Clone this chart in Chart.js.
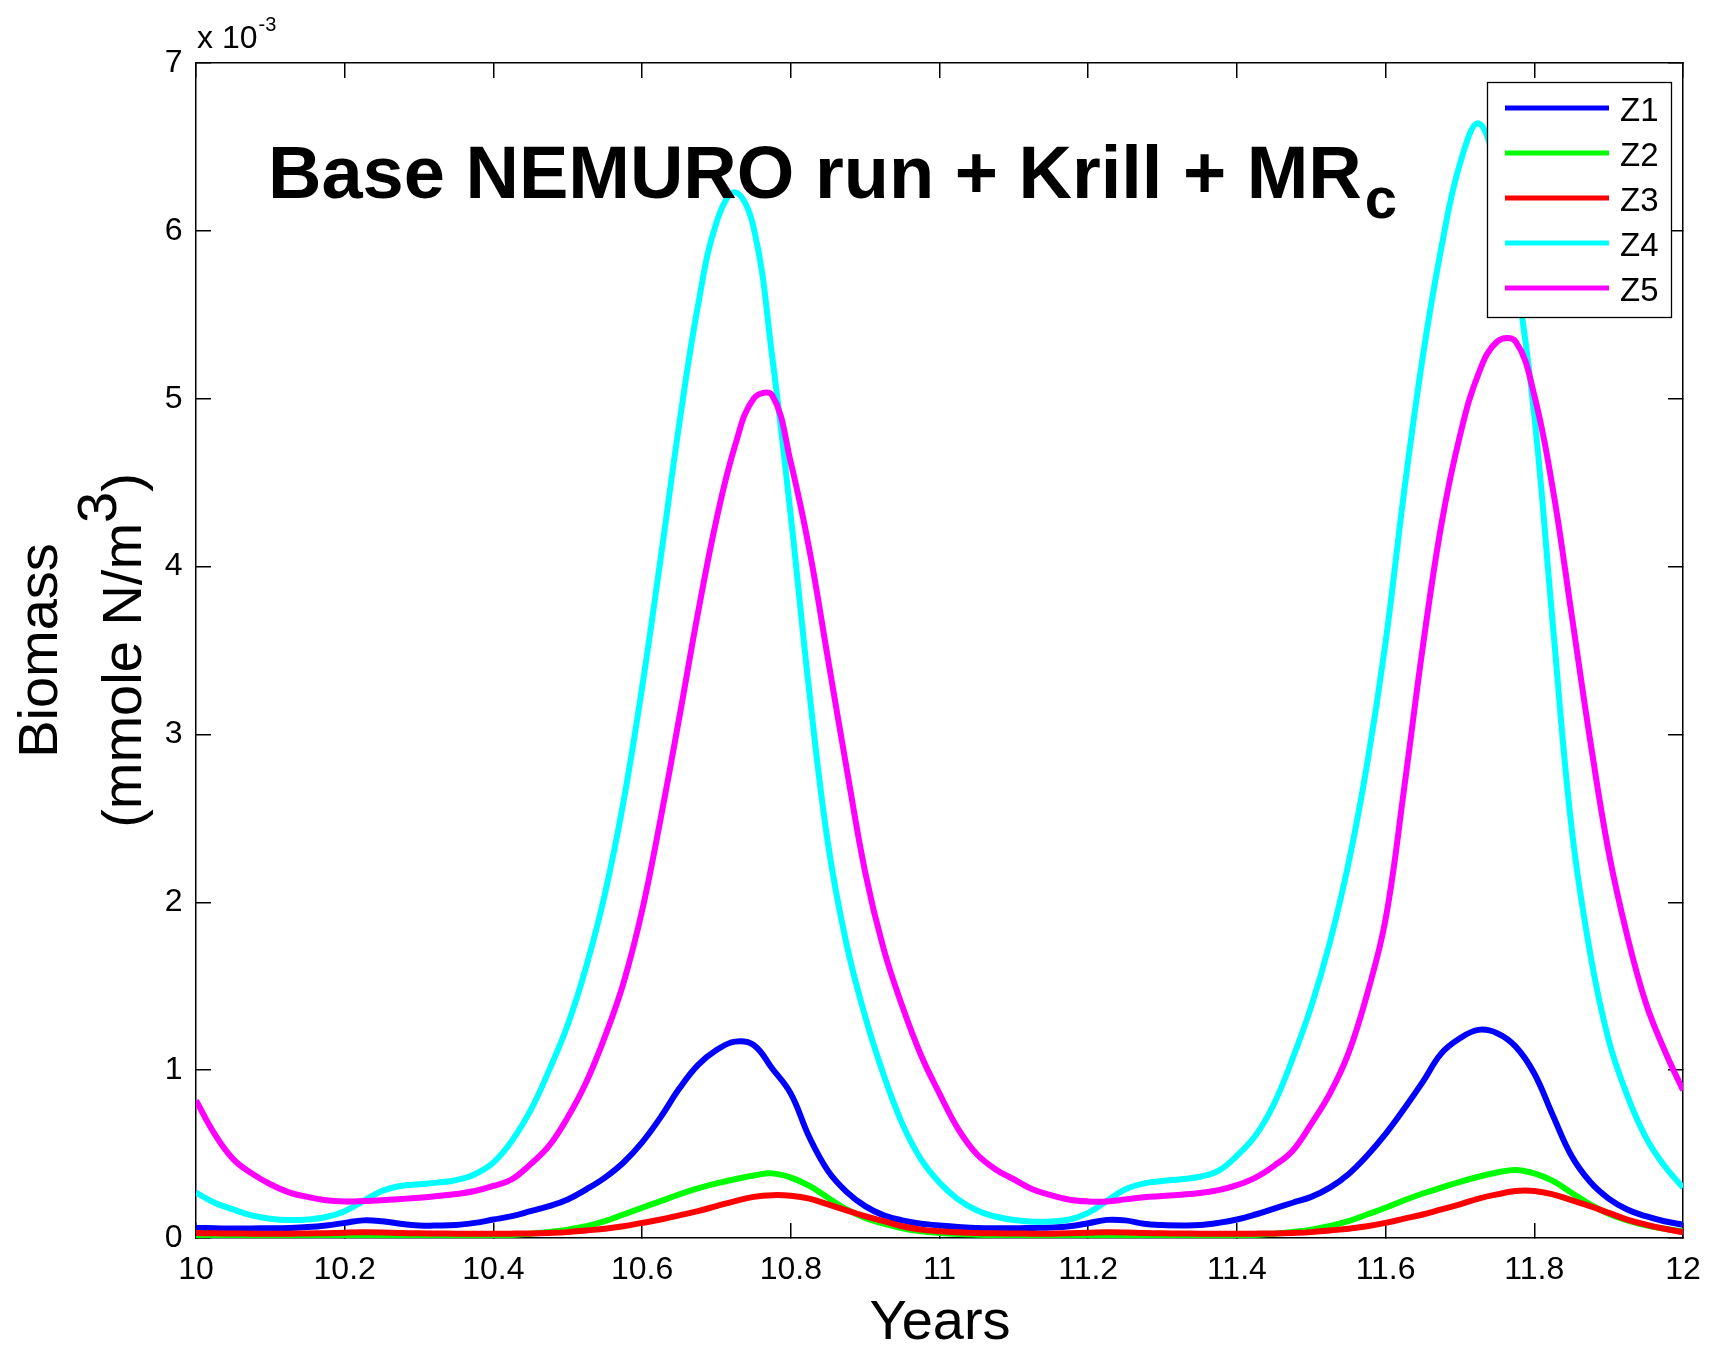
<!DOCTYPE html>
<html>
<head>
<meta charset="utf-8">
<script src="https://cdn.jsdelivr.net/npm/chart.js@4.4.1/dist/chart.umd.min.js"></script>
<style>
  html, body { margin:0; padding:0; background:#fff; }
  canvas { display:block; }
</style>
</head>
<body>
<canvas id="biomassChart" width="1713" height="1347"></canvas>
<script>
// ── data (values in units of 1e-3 mmole N/m3) ──
const years = [
  10, 10.025, 10.05, 10.075, 10.1, 10.125, 10.15, 10.175,
  10.2, 10.225, 10.25, 10.275, 10.3, 10.325, 10.35, 10.375,
  10.4, 10.425, 10.45, 10.475, 10.5, 10.525, 10.55, 10.575,
  10.6, 10.625, 10.65, 10.675, 10.7, 10.725, 10.75, 10.775,
  10.8, 10.825, 10.85, 10.875, 10.9, 10.925, 10.95, 10.975,
  11, 11.025, 11.05, 11.075, 11.1, 11.125, 11.15, 11.175,
  11.2, 11.225, 11.25, 11.275, 11.3, 11.325, 11.35, 11.375,
  11.4, 11.425, 11.45, 11.475, 11.5, 11.525, 11.55, 11.575,
  11.6, 11.625, 11.65, 11.675, 11.7, 11.725, 11.75, 11.775,
  11.8, 11.825, 11.85, 11.875, 11.9, 11.925, 11.95, 11.975,
  12
];

const z1 = [
  0.060, 0.058, 0.056, 0.057, 0.058, 0.060, 0.065, 0.075,
  0.090, 0.105, 0.100, 0.085, 0.075, 0.074, 0.077, 0.090,
  0.110, 0.130, 0.160, 0.190, 0.230, 0.290, 0.360, 0.450,
  0.570, 0.720, 0.890, 1.030, 1.120, 1.170, 1.150, 1.010,
  0.860, 0.600, 0.400, 0.275, 0.190, 0.135, 0.105, 0.085,
  0.075, 0.065, 0.060, 0.058, 0.058, 0.060, 0.062, 0.070,
  0.088, 0.108, 0.105, 0.085, 0.077, 0.075, 0.077, 0.090,
  0.110, 0.140, 0.175, 0.210, 0.245, 0.300, 0.380, 0.490,
  0.620, 0.770, 0.930, 1.100, 1.190, 1.240, 1.220, 1.140,
  0.980, 0.730, 0.490, 0.335, 0.235, 0.170, 0.130, 0.100,
  0.080
];

const z2 = [
  0.015, 0.014, 0.013, 0.012, 0.012, 0.012, 0.012, 0.013,
  0.014, 0.016, 0.016, 0.015, 0.014, 0.013, 0.013, 0.013,
  0.014, 0.018, 0.025, 0.036, 0.050, 0.070, 0.100, 0.140,
  0.180, 0.220, 0.260, 0.295, 0.325, 0.350, 0.372, 0.385,
  0.360, 0.310, 0.240, 0.170, 0.120, 0.085, 0.058, 0.040,
  0.030, 0.024, 0.020, 0.017, 0.015, 0.014, 0.013, 0.013,
  0.014, 0.016, 0.016, 0.015, 0.014, 0.013, 0.013, 0.013,
  0.014, 0.018, 0.025, 0.036, 0.050, 0.072, 0.100, 0.140,
  0.180, 0.225, 0.265, 0.300, 0.335, 0.365, 0.390, 0.405,
  0.385, 0.340, 0.270, 0.200, 0.145, 0.105, 0.075, 0.055,
  0.040
];

const z3 = [
  0.030, 0.028, 0.027, 0.026, 0.026, 0.026, 0.027, 0.029,
  0.032, 0.034, 0.033, 0.030, 0.028, 0.027, 0.026, 0.026,
  0.026, 0.026, 0.027, 0.030, 0.035, 0.045, 0.055, 0.070,
  0.090, 0.110, 0.135, 0.160, 0.190, 0.220, 0.245, 0.255,
  0.252, 0.235, 0.200, 0.165, 0.130, 0.100, 0.070, 0.050,
  0.040, 0.034, 0.030, 0.028, 0.027, 0.026, 0.026, 0.028,
  0.031, 0.034, 0.033, 0.030, 0.028, 0.027, 0.026, 0.026,
  0.026, 0.026, 0.027, 0.030, 0.035, 0.045, 0.055, 0.070,
  0.090, 0.115, 0.140, 0.170, 0.200, 0.235, 0.260, 0.280,
  0.280, 0.260, 0.225, 0.190, 0.150, 0.110, 0.080, 0.055,
  0.035
];

const z4 = [
  0.27, 0.21, 0.17, 0.135, 0.115, 0.107, 0.11, 0.125,
  0.16, 0.22, 0.28, 0.31, 0.32, 0.33, 0.345, 0.38,
  0.45, 0.58, 0.76, 1.0, 1.27, 1.62, 2.05, 2.6,
  3.28, 4.05, 4.85, 5.55, 6.05, 6.23, 6.02, 5.25,
  4.3, 3.25, 2.35, 1.75, 1.32, 0.97, 0.68, 0.47,
  0.33, 0.23, 0.165, 0.128, 0.107, 0.097, 0.098, 0.11,
  0.15, 0.22, 0.29, 0.325, 0.34, 0.35, 0.365, 0.4,
  0.49, 0.61, 0.8, 1.07, 1.38, 1.76, 2.23, 2.82,
  3.55, 4.45, 5.25, 5.9, 6.4, 6.64, 6.35, 5.75,
  4.9, 3.65, 2.45, 1.7, 1.18, 0.85, 0.6, 0.43,
  0.3
];

const z5 = [
  0.82, 0.62, 0.47, 0.385, 0.32, 0.272, 0.245, 0.225,
  0.218, 0.22, 0.225, 0.232, 0.24, 0.25, 0.262, 0.28,
  0.31, 0.35, 0.44, 0.55, 0.72, 0.93, 1.2, 1.52,
  1.95, 2.5, 3.1, 3.72, 4.28, 4.72, 5.0, 5.02,
  4.62, 4.1, 3.45, 2.8, 2.18, 1.72, 1.38, 1.09,
  0.86, 0.65, 0.5, 0.41, 0.35, 0.29, 0.255, 0.228,
  0.218, 0.218, 0.23, 0.243, 0.25, 0.258, 0.268, 0.285,
  0.315, 0.36, 0.43, 0.52, 0.68, 0.86, 1.1, 1.45,
  1.9, 2.68, 3.52, 4.25, 4.78, 5.15, 5.34, 5.34,
  5.02, 4.46, 3.72, 2.97, 2.3, 1.8, 1.4, 1.12,
  0.88
];

const seriesNames  = ['Z1', 'Z2', 'Z3', 'Z4', 'Z5'];
const seriesValues = [z1, z2, z3, z4, z5];
const seriesColors = ['#0000ff', '#00ff00', '#ff0000', '#00ffff', '#ff00ff'];

const xTicks = [10, 10.2, 10.4, 10.6, 10.8, 11, 11.2, 11.4, 11.6, 11.8, 12];
const xTickLabels = ['10', '10.2', '10.4', '10.6', '10.8', '11', '11.2', '11.4', '11.6', '11.8', '12'];
const yTicks = [0, 1, 2, 3, 4, 5, 6, 7];
const yTickLabels = ['0', '1', '2', '3', '4', '5', '6', '7'];

const FONT = "'Liberation Sans', Arial, Helvetica, sans-serif";
Chart.defaults.font.family = FONT;
Chart.defaults.color = '#000';

// ── overlay text + legend ──
const decorations = {
  id: 'decorations',
  afterDatasetsDraw(chart) {
    const ctx = chart.ctx;
    ctx.save();
    ctx.fillStyle = '#000';
    ctx.textAlign = 'left';
    ctx.textBaseline = 'alphabetic';

    // title with subscript
    const title = 'Base NEMURO run + Krill + MR';
    ctx.font = `bold 74px ${FONT}`;
    ctx.fillText(title, 268, 198);
    const tw = ctx.measureText(title).width;
    ctx.font = `bold 58px ${FONT}`;
    ctx.fillText('c', 268 + tw + 3, 218);

    // exponent label
    ctx.font = `32px ${FONT}`;
    ctx.fillText('x 10', 197, 48);
    const ew = ctx.measureText('x 10').width;
    ctx.font = `20px ${FONT}`;
    ctx.fillText('-3', 197 + ew + 1, 31);

    // x title
    ctx.font = `56px ${FONT}`;
    ctx.textAlign = 'center';
    ctx.fillText('Years', 940, 1339);

    // y title (two lines, rotated)
    const midY = (chart.chartArea.top + chart.chartArea.bottom) / 2;
    ctx.save();
    ctx.translate(57, midY);
    ctx.rotate(-Math.PI / 2);
    ctx.font = `56px ${FONT}`;
    ctx.textAlign = 'center';
    ctx.fillText('Biomass', 0, 0);
    ctx.restore();

    ctx.save();
    ctx.translate(141, midY);
    ctx.rotate(-Math.PI / 2);
    ctx.font = `56px ${FONT}`;
    ctx.textAlign = 'left';
    const p1 = '(mmole N/m', p2 = '3', p3 = ')';
    const w1 = ctx.measureText(p1).width;
    const w2 = ctx.measureText(p2).width;
    const w3 = ctx.measureText(p3).width;
    let sx = -(w1 + w2 + w3) / 2;
    ctx.fillText(p1, sx, 0);
    ctx.fillText(p2, sx + w1, -25);
    ctx.fillText(p3, sx + w1 + w2, 0);
    ctx.restore();

    ctx.restore();
  },
  afterDraw(chart) {
    const ctx = chart.ctx;
    ctx.save();
    const bx = 1487.5, by = 82.5, bw = 184, bh = 235;
    ctx.fillStyle = '#fff';
    ctx.fillRect(bx, by, bw, bh);
    ctx.strokeStyle = '#000';
    ctx.lineWidth = 1.3;
    ctx.strokeRect(bx, by, bw, bh);
    ctx.font = `33px ${FONT}`;
    ctx.textAlign = 'left';
    ctx.textBaseline = 'alphabetic';
    chart.data.datasets.forEach((ds, i) => {
      const y = 108 + i * 45;
      ctx.strokeStyle = ds.borderColor;
      ctx.lineWidth = 5;
      ctx.beginPath();
      ctx.moveTo(1505, y);
      ctx.lineTo(1609, y);
      ctx.stroke();
      ctx.fillStyle = '#000';
      ctx.fillText(ds.label, 1620, y + 13);
    });
    ctx.restore();
  }
};

const datasets = seriesNames.map((name, i) => ({
  label: name,
  data: years.map((t, k) => ({ x: t, y: seriesValues[i][k] })),
  borderColor: seriesColors[i],
  backgroundColor: seriesColors[i],
  borderWidth: 6,
  pointRadius: 0,
  fill: false,
  tension: 0.4,
  order: seriesNames.length - i   // later series drawn on top
}));

const tickGrid = { drawOnChartArea:false, drawTicks:true, tickLength:-15, color:'#000', lineWidth:1.5 };
const axisBorder = { display:true, color:'#000', width:1.5 };

new Chart(document.getElementById('biomassChart').getContext('2d'), {
  type: 'line',
  data: { datasets },
  options: {
    responsive:false, animation:false, devicePixelRatio:1,
    layout:{ padding:{ left:0, top:63, right:30, bottom:0 } },
    plugins:{ legend:{ display:false }, tooltip:{ enabled:false } },
    scales:{
      x:{
        type:'linear', position:'bottom', min:10, max:12,
        afterBuildTicks: s => { s.ticks = xTicks.map(v => ({ value:v })); },
        afterFit: s => { s.height = 109; s.paddingLeft = 0; s.paddingRight = 0; },
        ticks:{ callback:(v, i) => xTickLabels[i], font:{ size:32 }, color:'#000', padding:28, maxRotation:0, autoSkip:false },
        grid: tickGrid, border: axisBorder
      },
      x2:{
        type:'linear', position:'top', min:10, max:12,
        afterBuildTicks: s => { s.ticks = xTicks.map(v => ({ value:v })); },
        afterFit: s => { s.height = 0; s.paddingLeft = 0; s.paddingRight = 0; },
        ticks:{ display:false },
        grid: tickGrid, border: axisBorder
      },
      y:{
        type:'linear', position:'left', min:0, max:7,
        afterBuildTicks: s => { s.ticks = yTicks.map(v => ({ value:v })); },
        afterFit: s => { s.width = 196; s.paddingTop = 0; s.paddingBottom = 0; },
        ticks:{ callback:(v, i) => yTickLabels[i], font:{ size:32 }, color:'#000', padding:28.5 },
        grid: tickGrid, border: axisBorder
      },
      y2:{
        type:'linear', position:'right', min:0, max:7,
        afterBuildTicks: s => { s.ticks = yTicks.map(v => ({ value:v })); },
        afterFit: s => { s.width = 0; s.paddingTop = 0; s.paddingBottom = 0; },
        ticks:{ display:false },
        grid: tickGrid, border: axisBorder
      }
    }
  },
  plugins:[decorations]
});
</script>
</body>
</html>
